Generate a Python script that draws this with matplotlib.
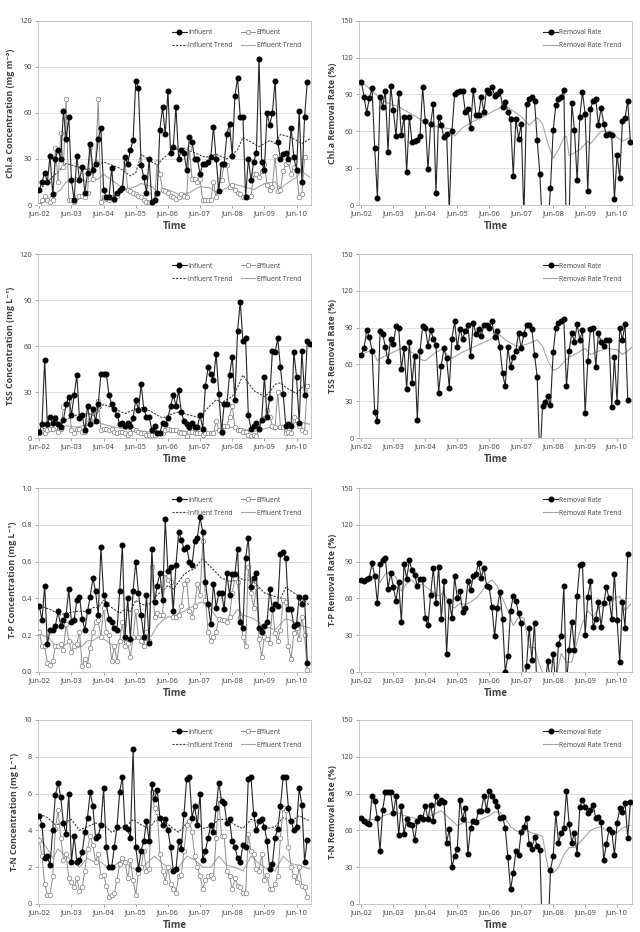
import numpy as np
import matplotlib
matplotlib.use("Agg")
import matplotlib.pyplot as plt

plt.rcParams['font.family'] = ['Open Sans', 'DejaVu Sans']

# ---------------- data (monthly, index 0 = Jun-02) ----------------
tick_months = [0, 12, 24, 36, 48, 60, 72, 84, 96]
tick_labels = ['Jun-02', 'Jun-03', 'Jun-04', 'Jun-05', 'Jun-06', 'Jun-07', 'Jun-08', 'Jun-09', 'Jun-10']

# Chl.a
chla_inf = [10,15,21,15,32,7,30,36,30,61, 43,57,16,3,32,16,25,8,21,40, 23,27,43,50,10,5,5,24,4,8,
            10,11,31,27,36,42,81,76,26,18, 8,30,2,3,8,49,64,46,74,34, 38,64,30,36,34,23,44,41,30,30,
            20,27,27,28,31,51,30,9,27,27, 46,53,32,71,83,57,57,5,30,16, 28,34,95,28,23,60,52,60,81,41,
            30,33,34,30,50,31,23,61,15,57, 80]
chla_eff = [0,3,6,3,2,3,37,15,47,25, 69,3,3,2,5,6,6,5,8,38, 17,28,69,2,5,4,3,5,3,6,
            10,11,28,10,9,8,7,6,5,3, 2,2,2,3,28,20,10,9,8,6, 5,4,5,7,6,5,37,17,17,15,
            17,3,3,3,3,15,5,16,16,27, 26,12,13,10,8,7,5,6,5,6, 20,20,18,22,27,13,10,12,32,9,
            10,22,27,28,20,25,22,5,7,31]
chla_inf_tr_m = [0,6,10,14,18,20,24,30,34,36,38,42,44,46,50,54,58,62,66,70,74,76,80,82,86,88,90,94,98,101]
chla_inf_tr = [10,20,27,25,23,25,28,24,19,21,33,28,26,30,36,37,34,31,33,30,36,44,40,38,42,40,46,44,40,43]
chla_eff_tr_m = [0,4,8,10,14,18,22,24,28,32,36,38,42,44,48,52,56,60,64,66,70,72,76,80,84,88,90,94,96,98,101]
chla_eff_tr = [0,5,10,15,18,15,17,20,15,10,12,14,12,8,10,7,8,12,11,8,11,14,12,10,14,15,11,16,18,22,18]
chla_rr = [100,88,75,87,95,46,6,88,80,93, 43,97,77,56,91,57,72,27,72,51, 52,53,56,96,68,29,66,82,10,72,
           65,55,58,-5,60,90,92,93,93,76, 78,63,94,73,73,88,76,94,91,96, 89,90,93,80,84,76,70,24,70,54,
           66,-10,82,86,88,85,53,25,-20,-20, -20,14,61,81,86,88,94,-30,-10,83, 61,20,72,92,74,11,78,85,86,65,
           79,66,57,58,57,5,41,22,68,71, 85,51]
chla_rr_tr_m = [0,3,8,10,14,18,22,26,30,34,35,38,42,46,50,54,56,60,63,66,68,70,72,74,76,77,78,82,85,86,88,90,94,96,98,101]
chla_rr_tr = [100,95,85,83,80,75,70,65,63,62,56,63,68,72,77,81,78,72,65,71,66,50,38,45,55,56,40,45,52,50,55,60,60,55,52,55]

# TSS
tss_inf = [4,9,51,9,14,10,13,9,7,12, 22,27,15,28,41,13,15,5,21,9, 19,11,22,42,42,42,28,22,19,15,
           9,10,8,10,8,13,25,18,35,19, 14,14,5,8,3,3,10,9,13,21, 28,21,31,17,11,9,7,10,7,7,
           15,6,34,46,42,38,55,29,4,22, 22,41,53,25,70,89,63,65,15,6, 8,10,6,12,40,14,26,57,56,65,
           46,29,8,9,8,56,40,10,57,28, 63,61]
tss_eff = [3,4,3,5,6,6,14,4,6,20, 22,24,5,3,6,6,4,4,10,12, 16,18,24,5,6,6,5,6,4,3,
           4,4,3,2,3,6,5,4,3,3, 2,2,2,2,3,3,3,5,6,5, 5,5,4,3,3,1,4,4,3,3,
           3,2,3,3,3,3,11,5,3,8, 8,14,21,7,5,5,4,4,2,1, 2,1,6,12,13,18,14,8,7,30,
           7,7,3,4,3,14,12,8,5,4, 34]
tss_inf_tr_m = [0,4,8,10,14,18,20,22,24,28,32,36,38,42,46,50,52,56,60,62,66,68,70,72,74,76,78,80,82,84,86,88,90,92,94,96,98,101]
tss_inf_tr = [5,8,9,12,15,16,15,17,22,19,16,19,20,17,13,16,17,15,13,18,25,23,25,27,33,41,36,31,29,27,30,35,36,33,31,29,33,35]
tss_eff_tr_m = [0,6,10,14,18,22,24,28,32,36,40,44,48,52,56,60,64,66,68,72,76,80,84,86,88,90,94,96,98,101]
tss_eff_tr = [4,5,8,7,9,10,9,7,6,5,4,4,4,5,4,3,3,5,6,7,6,4,6,7,5,8,8,11,10,9]
tss_rr = [68,73,88,82,71,21,14,87,85,74, 63,81,77,91,90,56,73,40,78,45, 67,15,71,91,90,75,88,81,76,37,
          59,73,65,41,81,95,74,89,81,87, 92,67,94,85,89,83,92,92,90,95, 82,87,74,53,42,74,58,66,71,86,
          73,85,92,92,89,68,50,-20,26,29, 34,27,70,90,94,95,97,42,71,86, 78,93,80,88,20,63,89,90,58,86,
          78,75,80,80,25,66,29,90,80,93, 31]
tss_rr_tr_m = [0,4,6,8,12,16,20,22,24,28,30,34,38,42,46,50,52,54,58,60,64,66,68,70,72,74,76,78,80,84,86,88,92,96,98,100,101.5]
tss_rr_tr = [68,72,63,66,70,74,68,64,63,70,72,65,70,74,78,82,84,80,75,75,78,80,75,63,55,57,62,66,68,73,68,70,73,72,68,71,74]

# T-P
tp_inf = [0.36,0.28,0.47,0.15,0.23,0.23,0.25,0.33,0.25,0.28, 0.31,0.45,0.27,0.28,0.39,0.41,0.29,0.23,0.33,0.41,
          0.51,0.44,0.31,0.68,0.42,0.37,0.29,0.27,0.24,0.23, 0.44,0.69,0.19,0.40,0.18,0.44,0.60,0.43,0.31,0.19,
          0.42,0.16,0.67,0.38,0.47,0.54,0.39,0.83,0.55,0.57, 0.33,0.58,0.76,0.72,0.67,0.68,0.60,0.58,0.71,0.73,
          0.84,0.76,0.49,0.37,0.26,0.48,0.35,0.43,0.43,0.34, 0.54,0.42,0.53,0.53,0.67,0.27,0.24,0.62,0.73,0.46,
          0.51,0.54,0.24,0.22,0.25,0.27,0.45,0.34,0.37,0.36, 0.64,0.65,0.62,0.34,0.34,0.25,0.26,0.41,0.37,0.41, 0.05]
tp_eff = [0.22,0.14,0.14,0.05,0.04,0.06,0.14,0.14,0.15,0.12, 0.26,0.17,0.11,0.14,0.15,0.22,0.03,0.07,0.04,0.13,
          0.22,0.27,0.28,0.19,0.35,0.22,0.20,0.06,0.14,0.06, 0.17,0.27,0.14,0.16,0.08,0.19,0.33,0.19,0.17,0.14,
          0.22,0.17,0.57,0.30,0.32,0.31,0.31,0.54,0.50,0.49, 0.30,0.30,0.31,0.36,0.48,0.50,0.33,0.30,0.36,0.48,
          0.42,0.71,0.39,0.22,0.17,0.19,0.22,0.29,0.28,0.28, 0.27,0.30,0.43,0.51,0.49,0.30,0.19,0.14,0.57,0.43,
          0.35,0.46,0.18,0.08,0.19,0.18,0.16,0.35,0.21,0.17, 0.23,0.39,0.38,0.14,0.07,0.21,0.24,0.18,0.30,0.20, 0.01]
tp_inf_tr_m = [0,4,8,10,14,18,20,22,24,26,30,32,34,36,38,40,42,44,46,48,50,52,54,56,58,60,61,62,64,66,68,70,72,74,76,78,80,82,84,86,88,90,92,94,96,98,101]
tp_inf_tr = [0.36,0.34,0.31,0.32,0.33,0.33,0.35,0.35,0.39,0.36,0.32,0.34,0.33,0.39,0.37,0.36,0.38,0.42,0.44,0.47,0.45,0.49,0.53,0.55,0.56,0.60,0.62,0.60,0.57,0.54,0.51,0.50,0.49,0.52,0.50,0.50,0.49,0.46,0.43,0.42,0.41,0.40,0.46,0.44,0.42,0.40,0.36]
tp_eff_tr_m = [0,4,6,8,10,12,14,16,18,20,22,24,26,28,30,32,34,36,38,40,42,44,46,48,50,52,54,56,58,60,62,64,66,68,70,72,74,76,78,80,82,84,86,88,90,92,94,96,98,101]
tp_eff_tr = [0.21,0.18,0.14,0.14,0.15,0.17,0.13,0.14,0.17,0.17,0.19,0.18,0.16,0.14,0.16,0.17,0.17,0.18,0.18,0.17,0.20,0.25,0.28,0.30,0.30,0.32,0.33,0.35,0.36,0.38,0.37,0.34,0.30,0.28,0.28,0.30,0.34,0.31,0.30,0.29,0.27,0.24,0.24,0.23,0.26,0.29,0.28,0.26,0.25,0.24]
tp_rr = [75,74,76,77,89,78,56,88,91,93, 68,81,69,58,73,41,88,76,91,83, 79,70,76,76,44,38,63,85,56,86,
         43,74,15,58,44,78,60,66,49,52, 74,67,78,80,89,77,85,70,69,53, 29,52,65,43,0,13,50,62,58,48,
         40,-20,5,36,10,40,-20,-30,-30,-10, 9,-10,15,-10,23,29,70,-10,18,41, 18,62,87,88,30,61,74,37,43,57,
         37,56,69,60,43,80,42,8,57,36, 96]
tp_rr_tr_m = [0,3,5,7,9,11,13,15,17,19,21,23,25,27,29,31,33,35,37,39,41,43,45,47,49,51,53,55,57,59,61,63,65,67,69,71,73,75,77,79,81,83,85,87,89,91,93,95,97,99,101]
tp_rr_tr = [76,75,80,73,80,82,77,66,72,75,70,72,68,65,62,65,55,52,56,55,57,60,65,72,75,70,60,50,38,45,44,20,20,5,-5,-10,-5,15,8,8,25,40,50,45,52,55,55,60,62,50,55]

# T-N
tn_inf = [4.8,4.3,2.5,2.6,2.1,4.0,5.9,6.6,5.8,4.4, 3.8,6.0,2.3,3.7,2.3,2.4,2.8,3.9,4.7,6.1,
          5.3,3.6,3.7,4.3,6.3,3.1,2.0,2.0,3.1,4.2, 6.1,6.9,4.2,4.1,3.6,8.4,3.1,1.9,2.9,3.4,
          4.5,3.4,6.5,5.7,6.2,4.7,4.3,4.6,4.0,3.1, 1.8,1.9,3.4,3.0,4.9,6.8,6.9,4.7,5.3,4.3,
          6.0,2.4,2.9,3.6,4.3,3.9,5.2,6.6,5.6,5.5, 4.4,4.6,3.4,3.1,2.5,2.3,3.2,3.1,6.8,6.9,
          4.9,4.0,4.5,4.6,4.2,3.4,1.9,2.2,3.6,4.1, 5.3,6.9,6.9,5.2,4.5,4.0,4.2,6.3,5.4,2.3, 3.5]
tn_eff = [3.5,2.6,1.1,0.5,0.5,1.5,4.1,5.1,3.6,2.4, 2.7,1.4,1.2,0.9,1.4,0.7,0.9,1.8,3.0,3.7,
          3.2,2.3,2.7,1.5,1.6,1.0,0.4,0.5,0.6,1.3, 2.2,2.5,2.3,1.4,2.4,1.3,0.5,1.7,2.0,2.9,
          1.8,1.9,6.1,5.2,5.0,2.7,1.8,1.2,2.0,1.1, 0.8,0.6,1.5,1.6,2.9,4.3,4.5,3.9,2.6,2.0,
          1.5,0.8,1.3,1.5,1.6,1.4,3.6,5.7,3.7,3.7, 1.8,1.5,0.8,1.4,1.0,0.9,0.6,0.6,3.8,2.9,
          2.7,1.9,1.8,2.7,1.3,1.6,0.8,0.8,1.1,1.5, 3.6,5.2,5.1,3.1,2.0,1.5,1.2,2.0,1.0,0.9, 0.4]
tn_inf_tr_m = [0,3,6,9,12,15,18,21,24,27,30,33,35,38,41,43,46,49,52,55,58,61,64,67,70,73,76,79,82,85,88,91,94,97,101]
tn_inf_tr = [4.9,4.7,4.3,4.4,4.6,4.0,4.2,4.4,4.3,3.9,4.1,4.3,4.6,4.3,4.1,4.5,4.6,4.2,3.9,4.4,4.6,4.1,4.2,4.6,4.6,4.3,4.1,4.6,4.5,4.1,4.2,4.7,4.5,4.8,4.5]
tn_eff_tr_m = [0,3,5,7,9,12,15,18,20,23,26,28,31,34,37,40,43,46,49,52,55,58,61,64,67,70,73,76,79,82,85,88,91,94,97,101]
tn_eff_tr = [3.6,3.0,2.5,3.0,2.7,2.4,2.0,2.5,2.3,2.3,1.9,2.1,2.4,2.0,1.8,2.2,2.6,2.2,1.9,2.0,2.6,2.4,2.0,2.0,2.6,2.1,2.0,1.8,2.6,2.2,1.9,1.8,2.6,2.2,2.1,1.9]
tn_rr = [70,68,66,65,88,84,70,43,77,91, 91,91,74,88,56,80,57,69,65,64, 52,68,71,69,80,69,81,68,88,82,
         85,83,50,61,30,39,45,85,69,78, 41,62,68,67,76,76,88,77,92,88, 84,80,70,71,62,38,12,25,43,40,
         59,63,70,49,45,55,47,44,-30,-30, -30,28,39,74,50,58,62,92,65,50, 58,41,79,85,79,74,77,81,70,71,
         67,36,49,61,59,40,66,78,75,82, 54,83]
tn_rr_tr_m = [0,4,6,8,10,12,14,16,20,22,24,28,30,32,34,36,38,40,42,44,46,48,50,52,54,56,58,60,62,64,66,68,70,72,74,76,78,80,82,84,86,88,90,92,94,96,98,101]
tn_rr_tr = [69,69,68,72,73,75,74,72,70,68,70,74,76,72,68,64,66,67,65,68,70,72,75,75,70,63,60,58,60,58,57,55,30,25,30,40,46,46,50,55,60,62,63,60,60,58,62,64]

# ---------------- drawing ----------------
W, H = 640, 932
fig = plt.figure(figsize=(W / 100, H / 100), dpi=100)

row_px = [(20.7, 205), (254, 438), (488, 672), (720, 904)]
left_px = (37.7, 311)
right_px = (359, 632)

TXT = '#404040'
GRID = '#d9d9d9'


def make_ax(xpx, ypx):
    l = xpx[0] / W
    w = (xpx[1] - xpx[0]) / W
    b = 1 - ypx[1] / H
    h = (ypx[1] - ypx[0]) / H
    ax = fig.add_axes([l, b, w, h])
    for s in ax.spines.values():
        s.set_color('#bfbfbf')
        s.set_linewidth(0.6)
    ax.grid(axis='y', color=GRID, linewidth=0.6)
    ax.set_axisbelow(True)
    ax.set_xticks(tick_months)
    ax.set_xticklabels(tick_labels)
    ax.tick_params(axis='both', labelsize=5.3, colors='#808080', labelcolor=TXT, length=2, width=0.5, pad=2)
    ax.set_xlabel('Time', fontsize=7.0, fontweight='bold', color=TXT, labelpad=2.5)
    return ax


def conc_panel(ypx, inf, eff, inf_tr_m, inf_tr, eff_tr_m, eff_tr, ylim, yticks, ylabel, fmt):
    ax = make_ax(left_px, ypx)
    x1 = np.arange(len(inf))
    x2 = np.arange(len(eff))
    ax.plot(x2, eff, '-', color='#8c8c8c', lw=0.7, marker='o', ms=3.3, mfc='white', mec='#7f7f7f',
            mew=0.5, label='Effluent', zorder=3)
    ax.plot(x1, inf, '-', color='#262626', lw=0.8, marker='o', ms=3.3, mfc='black', mec='black',
            label='Influent', zorder=4)
    ax.plot(inf_tr_m, inf_tr, '--', color='#404040', lw=0.8, dashes=(2, 1.2), label='Influent Trend', zorder=2)
    ax.plot(eff_tr_m, eff_tr, '-', color='#a6a6a6', lw=0.8, label='Effluent Trend', zorder=2)
    ax.set_xlim(-0.6, 101.4)
    ax.set_ylim(*ylim)
    ax.set_yticks(yticks)
    ax.set_yticklabels([fmt.format(v) for v in yticks])
    ax.set_ylabel(ylabel, fontsize=6.4, fontweight='bold', color=TXT, labelpad=3)
    h, l = ax.get_legend_handles_labels()
    # columns filled first: col1 = Influent, Influent Trend; col2 = Effluent, Effluent Trend
    order = [1, 2, 0, 3]
    ax.legend([h[i] for i in order], [l[i] for i in order], ncol=2, loc='upper right',
              bbox_to_anchor=(0.985, 0.985), frameon=False, fontsize=4.8, handlelength=2.2,
              handletextpad=0.2, columnspacing=1.2, labelspacing=0.9, labelcolor=TXT)
    return ax


def rr_panel(ypx, rr, tr_m, tr, ylabel):
    ax = make_ax(right_px, ypx)
    x = np.arange(len(rr))
    ax.plot(x, rr, '-', color='#262626', lw=0.8, marker='o', ms=3.3, mfc='black', mec='black',
            label='Removal Rate', zorder=4)
    ax.plot(tr_m, tr, '-', color='#a6a6a6', lw=0.8, label='Removal Rate Trend', zorder=2)
    ax.set_xlim(-0.9, 101.6)
    ax.set_ylim(0, 150)
    ax.set_yticks([0, 30, 60, 90, 120, 150])
    ax.set_ylabel(ylabel, fontsize=6.4, fontweight='bold', color=TXT, labelpad=3)
    ax.legend(loc='upper right', bbox_to_anchor=(0.985, 0.985), frameon=False, fontsize=4.8,
              handlelength=2.2, handletextpad=0.2, labelspacing=0.9, labelcolor=TXT)
    return ax


conc_panel(row_px[0], chla_inf, chla_eff, chla_inf_tr_m, chla_inf_tr, chla_eff_tr_m, chla_eff_tr,
           (0, 120), [0, 30, 60, 90, 120], 'Chl.a Concentration (mg m⁻³)', '{:.0f}')
rr_panel(row_px[0], chla_rr, chla_rr_tr_m, chla_rr_tr, 'Chl.a Removal Rate (%)')

conc_panel(row_px[1], tss_inf, tss_eff, tss_inf_tr_m, tss_inf_tr, tss_eff_tr_m, tss_eff_tr,
           (0, 120), [0, 30, 60, 90, 120], 'TSS Concentration (mg L⁻¹)', '{:.0f}')
rr_panel(row_px[1], tss_rr, tss_rr_tr_m, tss_rr_tr, 'TSS Removal Rate (%)')

conc_panel(row_px[2], tp_inf, tp_eff, tp_inf_tr_m, tp_inf_tr, tp_eff_tr_m, tp_eff_tr,
           (0, 1.0), [0, 0.2, 0.4, 0.6, 0.8, 1.0], 'T-P Concentration (mg L⁻¹)', '{:.1f}')
rr_panel(row_px[2], tp_rr, tp_rr_tr_m, tp_rr_tr, 'T-P Removal Rate (%)')

conc_panel(row_px[3], tn_inf, tn_eff, tn_inf_tr_m, tn_inf_tr, tn_eff_tr_m, tn_eff_tr,
           (0, 10), [0, 2, 4, 6, 8, 10], 'T-N Concentration (mg L⁻¹)', '{:.0f}')
rr_panel(row_px[3], tn_rr, tn_rr_tr_m, tn_rr_tr, 'T-N Removal Rate (%)')

fig.savefig('out.png', dpi=100, facecolor='white')
